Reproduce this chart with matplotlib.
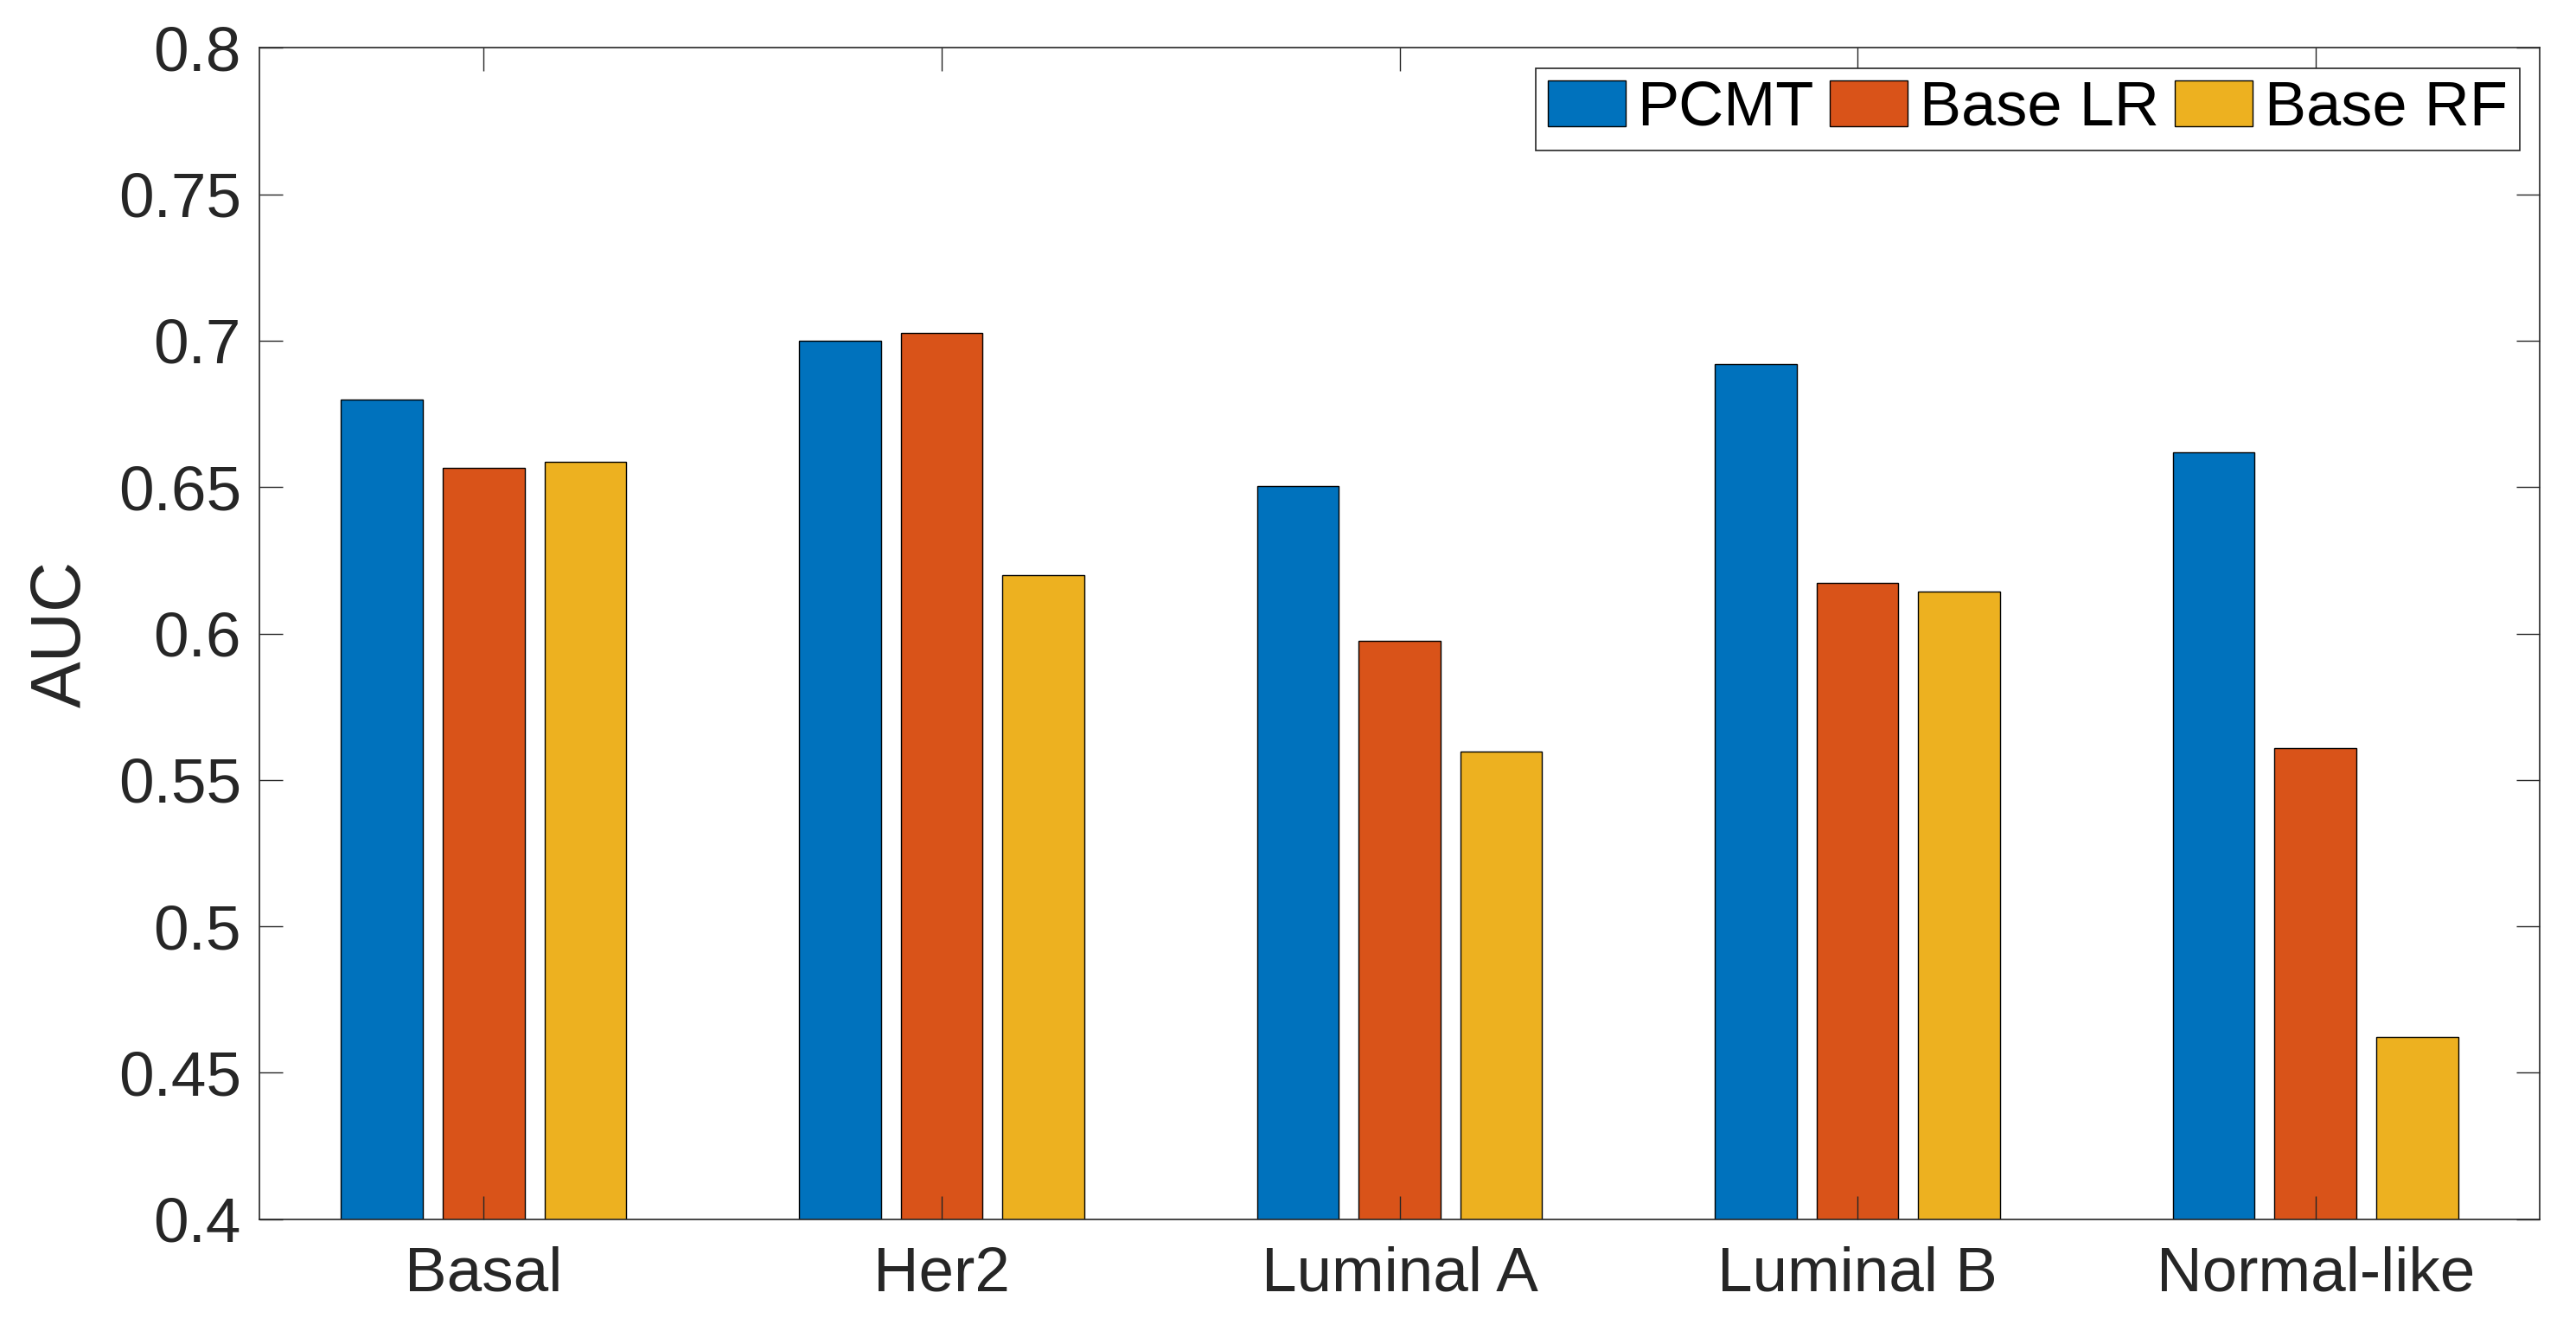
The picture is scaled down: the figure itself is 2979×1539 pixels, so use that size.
import numpy as np
import matplotlib.pyplot as plt

# subtypes and AUC per method
subtypes = ["Basal", "Her2", "Luminal A", "Luminal B", "Normal-like"]
pcmt = [0.680, 0.700, 0.6505, 0.692, 0.662]
base_lr = [0.6565, 0.7028, 0.5975, 0.6173, 0.5609]
base_rf = [0.6587, 0.6199, 0.5597, 0.6144, 0.4622]
methods = ["PCMT", "Base LR", "Base RF"]
colors = ["#0072BD", "#D95319", "#EDB120"]
yticks = [0.4, 0.45, 0.5, 0.55, 0.6, 0.65, 0.7, 0.75, 0.8]

plt.rcParams['font.family'] = ['Liberation Sans', 'DejaVu Sans']
axcol = "#262626"

fig = plt.figure(figsize=(29.79, 15.39), dpi=100)
ax = fig.add_axes([0.1008, 0.084, 0.8852, 0.880])

x = np.arange(1, len(subtypes) + 1)
width = 0.1786
offsets = [-0.222, 0.0, 0.222]
for vals, off, col, name in zip([pcmt, base_lr, base_rf], offsets, colors, methods):
    ax.bar(x + off, vals, width, color=col, edgecolor="black", linewidth=1.0, label=name)

ax.set_xlim(0.511, 5.49)
ax.set_ylim(0.4, 0.8)
ax.set_xticks(x)
ax.set_xticklabels(subtypes)
ax.set_yticks(yticks)
ax.set_yticklabels(["%g" % t for t in yticks])
ax.set_ylabel("AUC", fontsize=58, color=axcol, labelpad=19)

ax.tick_params(direction="in", length=19.5, width=1.0, colors=axcol,
               labelsize=52.5, top=True, right=True, pad=22)
ax.tick_params(axis="y", pad=15.5)
for s in ax.spines.values():
    s.set_color(axcol)
    s.set_linewidth(1.2)

leg = ax.legend(loc="upper right", ncol=3, fontsize=52, frameon=True, fancybox=False,
                framealpha=1, edgecolor=axcol, handlelength=1.24, handleheight=0.75,
                handletextpad=0.19, columnspacing=0.26, borderpad=0.2,
                borderaxespad=0.32)
leg.get_frame().set_linewidth(1.2)

fig.savefig("out.png", dpi=100)
